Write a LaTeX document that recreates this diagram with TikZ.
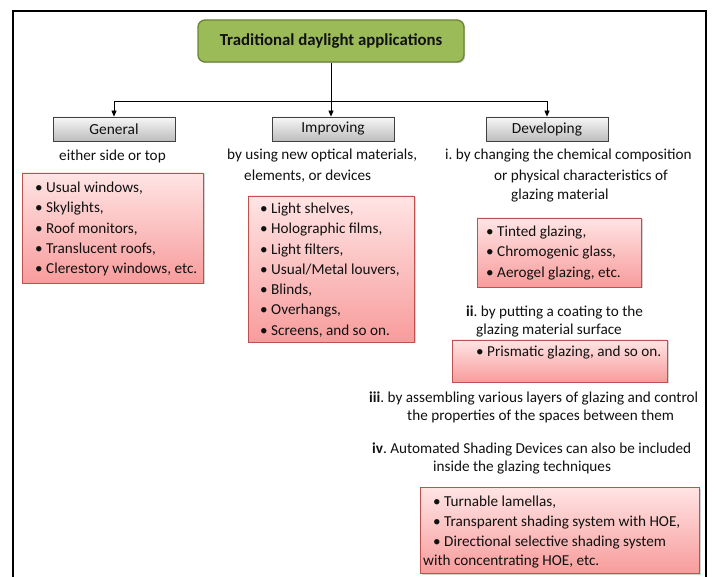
\documentclass[tikz,border=0pt]{standalone}
\usepackage{fontspec}
\setmainfont{Carlito}
\frenchspacing
\usetikzlibrary{shadows,arrows.meta}
\definecolor{gtitle}{HTML}{9BBB59}
\definecolor{gtitleb}{HTML}{6B8534}
\definecolor{redtop}{HTML}{FFE4E4}
\definecolor{redbot}{HTML}{F89C9C}
\definecolor{redline}{HTML}{C0504D}
\definecolor{graytop}{HTML}{F7F7F7}
\definecolor{graybot}{HTML}{BDBDBD}
\definecolor{txt}{HTML}{111111}
\tikzset{
  titlebox/.style={draw=gtitleb, line width=1.3pt, fill=gtitle, rounded corners=7pt,
    minimum width=266pt, minimum height=42pt, inner sep=0pt,
    font=\fontsize{16.8}{19}\selectfont\bfseries, text=txt,
    drop shadow={shadow xshift=1.2pt, shadow yshift=-1.2pt, opacity=0.35}},
  graybox/.style={draw=black!75, line width=0.8pt, top color=graytop, bottom color=graybot,
    minimum width=122pt, minimum height=24pt, inner sep=0pt,
    font=\fontsize{15.4}{18}\selectfont, text=txt,
    drop shadow={shadow xshift=1.2pt, shadow yshift=-1.2pt, opacity=0.35}},
  redbox/.style={draw=redline, line width=0.8pt, top color=redtop, bottom color=redbot,
    inner sep=0pt,
    drop shadow={shadow xshift=1.5pt, shadow yshift=-1.5pt, opacity=0.35}},
  lbl/.style={anchor=west, inner sep=0pt, font=\fontsize{15.2}{19}\selectfont, text=txt, align=left},
  items/.style={anchor=west, inner sep=0pt, font=\fontsize{15.2}{20.3}\selectfont, text=txt, align=left},
  conn/.style={draw=black, line width=0.8pt},
  arr/.style={conn, -{Triangle[length=6pt, width=5pt]}}
}
\begin{document}
\begin{tikzpicture}[x=1pt, y=-1pt]
\useasboundingbox (0,0) rectangle (718,577);
\fill[white] (0,0) rectangle (718,577);
\begin{scope}
\clip (0,0) rectangle (718,577);
\draw[line width=2pt] (13,600) -- (13,11) -- (706,11) -- (706,600);
\end{scope}

% title and headings
\node[titlebox] (title) at (331,41) {Traditional daylight applications};
\node[graybox] (gen) at (114,129) {General};
\node[graybox] (imp) at (333,129) {Improving};
\node[graybox] (dev) at (547,129) {Developing};

% connectors
\coordinate (jm) at (title.south |- 0,101);
\coordinate (jl) at (gen.north |- jm);
\coordinate (jr) at (dev.north |- jm);
\draw[conn] (title.south) -- (jm);
\draw[conn] (jl) -- (jr);
\draw[arr] (jl) -- (gen.north);
\draw[arr] (jm) -- (jm |- imp.north);
\draw[arr] (jr) -- (dev.north);

% General column
\node[lbl] (gt1) at (59,156) {either side or top};
\node[redbox, minimum width=181pt, minimum height=110pt] (r1) at (112.5,228) {};
\node[items] (r1t) at (35,229) {\textbullet\ Usual windows,\\ \textbullet\ Skylights,\\ \textbullet\ Roof monitors,\\ \textbullet\ Translucent roofs,\\ \textbullet\ Clerestory windows, etc.};

% Improving column
\node[lbl] (it1) at (227,156) {by using new optical materials,};
\node[lbl] (it2) at (244,176) {elements, or devices};
\node[redbox, minimum width=166pt, minimum height=146pt] (r2) at (331,269) {};
\node[items] (r2t) at (260,270) {\textbullet\ Light shelves,\\ \textbullet\ Holographic films,\\ \textbullet\ Light filters,\\ \textbullet\ Usual/Metal louvers,\\ \textbullet\ Blinds,\\ \textbullet\ Overhangs,\\ \textbullet\ Screens, and so on.};

% Developing column
\node[lbl] (dt1) at (445,156) {i. by changing the chemical composition};
\node[lbl] (dt2) at (494,176) {or physical characteristics of};
\node[lbl] (dt3) at (511,196) {glazing material};
\node[redbox, minimum width=164pt, minimum height=69pt] (r3) at (559,252.5) {};
\node[items] (r3t) at (486,253) {\textbullet\ Tinted glazing,\\ \textbullet\ Chromogenic glass,\\ \textbullet\ Aerogel glazing, etc.};

\node[lbl] (dt4) at (466,312) {\textbf{ii}. by putting a coating to the};
\node[lbl] (dt5) at (476,331) {glazing material surface};
\node[redbox, minimum width=215pt, minimum height=42pt] (r4) at (559.5,361) {};
\node[items] (r4t) at (476,353) {\textbullet\ Prismatic glazing, and so on.};

\node[lbl] (dt6) at (369,398) {\textbf{iii}. by assembling various layers of glazing and control};
\node[lbl] (dt7) at (407,416) {the properties of the spaces between them};
\node[lbl] (dt8) at (372,449) {\textbf{iv}. Automated Shading Devices can also be included};
\node[lbl] (dt9) at (433,468) {inside the glazing techniques};
\node[redbox, minimum width=279pt, minimum height=86pt] (r5) at (559.5,530) {};
\node[items] (r5t) at (433,522.5) {\textbullet\ Turnable lamellas,\\ \textbullet\ Transparent shading system with HOE,\\ \textbullet\ Directional selective shading system};
\node[items] (r5u) at (423,562) {with concentrating HOE, etc.};
\end{tikzpicture}
\end{document}
